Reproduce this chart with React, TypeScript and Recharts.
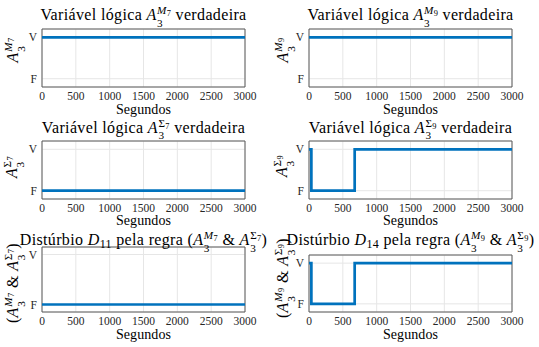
import React from 'react';
import { LineChart, Line, XAxis, YAxis, CartesianGrid, ReferenceArea } from 'recharts';

// eixo x (segundos) e níveis lógicos
const segundosTicks = [0, 500, 1000, 1500, 2000, 2500, 3000];
const niveis = [0, 1];
const rotulosNiveis = ['F', 'V'];

// instantes de amostragem
const tempoConstante = [0, 3000];
const tempoDegrau = [0, 35, 675, 3000];

// séries lógicas (0 = F, 1 = V)
const a3M7 = [1, 1];
const a3M9 = [1, 1];
const a3S7 = [0, 0];
const a3S9 = [1, 0, 1, 1];
const d11 = [0, 0];
const d14 = [1, 0, 1, 1];

const FONT = '"Liberation Serif", "Times New Roman", serif';
const AZUL = '#0072BD';

const Idx: React.FC<{ base: string; sup: React.ReactNode; sub: string }> = ({ base, sup, sub }) => (
  <span style={{ whiteSpace: 'nowrap' }}>
    <i>{base}</i>
    <span style={{ display: 'inline-flex', flexDirection: 'column', fontSize: '0.7em', lineHeight: 0.9, verticalAlign: '0.54em', marginLeft: '0.04em' }}>
      <span>{sup}</span>
      <span>{sub}</span>
    </span>
  </span>
);

const SubIdx: React.FC<{ base: React.ReactNode; sub: string }> = ({ base, sub }) => (
  <>
    {base}
    <span style={{ fontSize: '0.75em', verticalAlign: '-0.25em' }}>{sub}</span>
  </>
);

const M = (n: string) => <SubIdx base={<i>M</i>} sub={n} />;
const S = (n: string) => <SubIdx base={'Σ'} sub={n} />;

const Texto: React.FC<{ x: number; y: number; size: number; spacing?: number; rot?: boolean; children: React.ReactNode }> = ({ x, y, size, spacing = 0, rot, children }) => (
  <div
    style={{
      position: 'absolute',
      left: x,
      top: y,
      transform: `translate(-50%, -50%)${rot ? ' rotate(-90deg)' : ''}`,
      whiteSpace: 'nowrap',
      fontSize: size,
      letterSpacing: spacing,
      lineHeight: 1,
      fontFamily: FONT,
      color: '#000',
    }}
  >
    {children}
  </div>
);

interface Painel {
  tempo: number[];
  valores: number[];
  box: { x: number; y: number; w: number; h: number };
  yDomain: [number, number];
  titulo: React.ReactNode;
  titleY: number;
  xlabelY: number;
  ylabel: React.ReactNode;
  ylabelPos: [number, number];
}

const PAD_L = 30;
const PAD_T = 4;
const PAD_R = 16;
const PAD_B = 22;

const Grafico: React.FC<{ p: Painel }> = ({ p }) => {
  const data = p.tempo.map((t, i) => ({ t, v: p.valores[i] }));
  const { x, y, w, h } = p.box;
  return (
    <>
      <div style={{ position: 'absolute', left: x - PAD_L, top: y - PAD_T }}>
        <LineChart
          width={w + PAD_L + PAD_R}
          height={h + PAD_T + PAD_B}
          data={data}
          margin={{ top: PAD_T, right: PAD_R, left: PAD_L - 20, bottom: PAD_B - 20 }}
        >
          <CartesianGrid stroke="#e6e6e6" strokeWidth={1} />
          <XAxis
            dataKey="t"
            type="number"
            domain={[0, 3000]}
            ticks={segundosTicks}
            height={20}
            tickLine={false}
            axisLine={false}
            tickSize={3}
            tickMargin={2}
            interval={0}
            tick={{ fontFamily: FONT, fontSize: 11.5, fill: '#262626' }}
          />
          <YAxis
            type="number"
            domain={p.yDomain}
            ticks={niveis}
            width={20}
            tickLine={false}
            axisLine={false}
            tickSize={3}
            tickMargin={2}
            tickFormatter={(v: number) => rotulosNiveis[v]}
            tick={{ fontFamily: FONT, fontSize: 11.5, fill: '#262626' }}
          />
          <ReferenceArea x1={0} x2={3000} y1={p.yDomain[0]} y2={p.yDomain[1]} fill="none" stroke="#5a5a5a" strokeWidth={1} />
          <Line type="stepAfter" dataKey="v" stroke={AZUL} strokeWidth={2.7} dot={false} isAnimationActive={false} />
        </LineChart>
      </div>
      <Texto x={x + w / 2} y={p.titleY} size={16} spacing={0.35}>{p.titulo}</Texto>
      <Texto x={x + w / 2} y={p.xlabelY} size={14} spacing={0.1}>Segundos</Texto>
      <Texto x={p.ylabelPos[0]} y={p.ylabelPos[1]} size={16} spacing={0.4} rot>{p.ylabel}</Texto>
    </>
  );
};

const paineis: Painel[] = [
  {
    tempo: tempoConstante, valores: a3M7,
    box: { x: 42, y: 29, w: 203, h: 58 }, yDomain: [-0.2, 1.2],
    titulo: <>Variável lógica <Idx base="A" sup={M('7')} sub="3" /> verdadeira</>,
    titleY: 16, xlabelY: 110,
    ylabel: <Idx base="A" sup={M('7')} sub="3" />, ylabelPos: [14, 50],
  },
  {
    tempo: tempoConstante, valores: a3M9,
    box: { x: 309, y: 29, w: 203, h: 58 }, yDomain: [-0.2, 1.2],
    titulo: <>Variável lógica <Idx base="A" sup={M('9')} sub="3" /> verdadeira</>,
    titleY: 16, xlabelY: 110,
    ylabel: <Idx base="A" sup={M('9')} sub="3" />, ylabelPos: [284, 50],
  },
  {
    tempo: tempoConstante, valores: a3S7,
    box: { x: 42, y: 141, w: 203, h: 58 }, yDomain: [-0.2, 1.2],
    titulo: <>Variável lógica <Idx base="A" sup={S('7')} sub="3" /> verdadeira</>,
    titleY: 128.5, xlabelY: 221,
    ylabel: <Idx base="A" sup={S('7')} sub="3" />, ylabelPos: [13, 167],
  },
  {
    tempo: tempoDegrau, valores: a3S9,
    box: { x: 309, y: 141, w: 203, h: 58 }, yDomain: [-0.2, 1.2],
    titulo: <>Variável lógica <Idx base="A" sup={S('9')} sub="3" /> verdadeira</>,
    titleY: 128.5, xlabelY: 221,
    ylabel: <Idx base="A" sup={S('9')} sub="3" />, ylabelPos: [283, 166],
  },
  {
    tempo: tempoConstante, valores: d11,
    box: { x: 42, y: 247, w: 203, h: 65 }, yDomain: [-0.15, 1.15],
    titulo: <>Distúrbio <SubIdx base={<i>D</i>} sub="11" /> pela regra (<Idx base="A" sup={M('7')} sub="3" /> &amp; <Idx base="A" sup={S('7')} sub="3" />)</>,
    titleY: 241, xlabelY: 335,
    ylabel: <>(<Idx base="A" sup={M('7')} sub="3" /> &amp; <Idx base="A" sup={S('7')} sub="3" />)</>, ylabelPos: [14, 283],
  },
  {
    tempo: tempoDegrau, valores: d14,
    box: { x: 309, y: 255, w: 203, h: 57 }, yDomain: [-0.2, 1.2],
    titulo: <>Distúrbio <SubIdx base={<i>D</i>} sub="14" /> pela regra (<Idx base="A" sup={M('9')} sub="3" /> &amp; <Idx base="A" sup={S('9')} sub="3" />)</>,
    titleY: 241, xlabelY: 335,
    ylabel: <>(<Idx base="A" sup={M('9')} sub="3" /> &amp; <Idx base="A" sup={S('9')} sub="3" />)</>, ylabelPos: [284, 278],
  },
];

export default function App() {
  return (
    <div style={{ position: 'absolute', left: 0, top: 0, width: 539, height: 347, background: '#fff', overflow: 'hidden', fontFamily: FONT }}>
      {paineis.map((p, i) => (
        <Grafico key={i} p={p} />
      ))}
    </div>
  );
}
